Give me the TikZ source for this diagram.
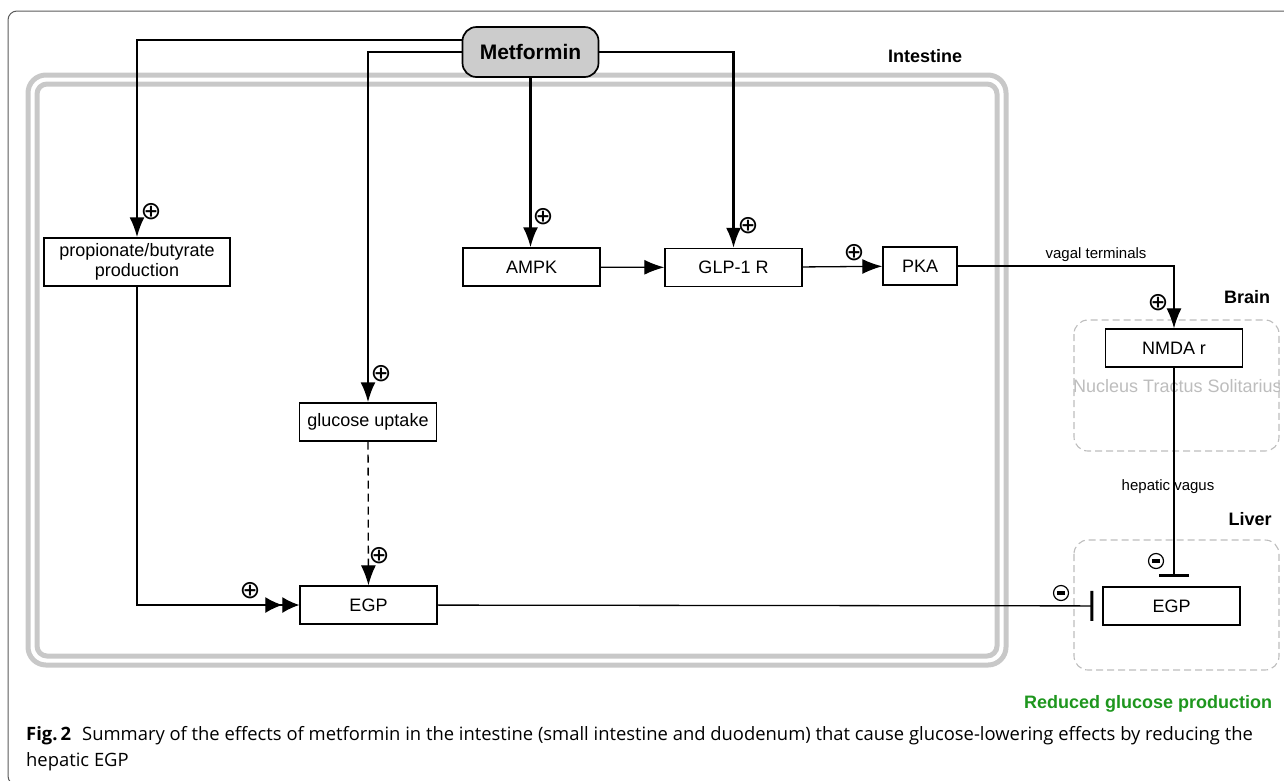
\documentclass[tikz,border=0pt]{standalone}
\usepackage{fontspec}
\setmainfont{Liberation Sans}
\newfontfamily\capfont{Open Sans}
\newfontfamily\symfont{DejaVu Sans}
\usetikzlibrary{arrows.meta,positioning}
\definecolor{metgray}{HTML}{CCCCCC}
\definecolor{wallgray}{HTML}{C8C8C8}
\definecolor{regiongray}{HTML}{BDBDBD}
\definecolor{framegray}{HTML}{5A5A5A}
\definecolor{okgreen}{HTML}{1E961E}

\begin{document}
\begin{tikzpicture}[
    x=1pt, y=-1pt,
    >={Latex[length=20pt,width=15pt]},
    every node/.style={font=\fontsize{18}{20}\selectfont},
    box/.style={
        rectangle,
        draw=black,
        line width=1.4pt,
        align=center,
        minimum width=137pt,
        minimum height=38pt,
        inner sep=2pt
    },
    drug/.style={
        rectangle,
        rounded corners=14pt,
        draw=black,
        line width=1.7pt,
        fill=metgray,
        minimum width=136pt,
        minimum height=50pt,
        font=\fontsize{21}{21}\selectfont\bfseries
    },
    wall/.style={draw=wallgray, line width=5pt, rounded corners=#1},
    region/.style={draw=regiongray, line width=1.1pt, dash pattern=on 7pt off 4pt, rounded corners=14pt},
    organ/.style={font=\fontsize{18}{18}\selectfont\bfseries},
    tag/.style={font=\fontsize{15}{15}\selectfont, inner sep=1pt},
    plussign/.style={font=\symfont\fontsize{25}{25}\selectfont, inner sep=0pt},
    minussign/.style={
        circle, draw, line width=1.2pt, minimum size=15pt, inner sep=0pt,
        path picture={\fill ([xshift=-4pt,yshift=-1.6pt]path picture bounding box.center)
            rectangle ([xshift=4pt,yshift=1.6pt]path picture bounding box.center);}
    },
    drive/.style={->, line width=2.2pt},
    flow/.style={->, line width=1.3pt},
    block/.style={-{Bar[width=30pt,line width=3pt]}, line width=1.3pt, shorten >=9pt}
]
\useasboundingbox (0,0) rectangle (1284,780);

% frame and compartments
\draw[framegray, line width=1pt, rounded corners=9pt] (8,11) rectangle (1320,785);
\draw[wall=18pt] (28,75) rectangle (1006,665);
\draw[wall=10pt] (37,84) rectangle (997,656);
\draw[region] (1074,320) rectangle (1279,451);
\draw[region] (1074,540) rectangle (1279,670);
\begin{scope}
\clip (1070,322) rectangle (1279,449);
\node[anchor=west, text=regiongray, inner sep=0pt] (nts) at (1073,386) {Nucleus Tractus Solitarius};
\end{scope}

\node[drug] (met) at (530.5,52) {Metformin};
\node[box, minimum width=186pt, minimum height=48pt] (prop) at (137,262) {propionate/butyrate\\production};
\node[box] (ampk) at (531.5,267) {AMPK};
\node[box] (glp) at (733.5,267.5) {GLP-1 R};
\node[box, minimum width=74pt] (pka) at (920,266) {PKA};
\node[box] (upt) at (368,422) {glucose uptake};
\node[box] (egp) at (368.5,605) {EGP};
\node[box] (nmda) at (1174,348) {NMDA r};
\node[box] (legp) at (1171.5,606) {EGP};

\node[organ] (intestine) at (925,56) {Intestine};
\node[organ] (brain) at (1247,297) {Brain};
\node[organ] (liver) at (1250,519) {Liver};
\node[organ, text=okgreen] (result) at (1148,704) {Reduced glucose production};
\node[tag] (vagal) at (1096,255) {vagal terminals};
\node[tag] (hepatic) at (1168,487) {hepatic vagus};

\node[plussign] (plusprop) at (151,212) {⊕};
\node[plussign] (plusampk) at (543,217) {⊕};
\node[plussign] (plusglp) at (748,226) {⊕};
\node[plussign] (pluspka) at (854,253) {⊕};
\node[plussign] (plusnmda) at (1158,303) {⊕};
\node[plussign] (plusupt) at (381,374) {⊕};
\node[plussign] (plusegpa) at (379,556) {⊕};
\node[plussign] (plusegpb) at (250,591) {⊕};
\node[minussign] (minusa) at (1156,561) {};
\node[minussign] (minusb) at (1061,593) {};

\draw[drive] ([yshift=12pt]met.west) -| (prop.north);
\draw[drive] (met.west) -| (upt.north);
\draw[drive] (met.east) -| (glp.north);
\draw[drive] (met.south) -- (met.south |- ampk.north);
\draw[flow] (ampk) -- (glp);
\draw[flow] (glp) -- (pka);
\draw[flow] (pka.east) -| (nmda.north);
\draw[flow, dash pattern=on 8pt off 5pt] (upt) -- (egp);
\draw[-{Latex[length=17pt,width=16pt] Latex[length=17pt,width=16pt]}, line width=1.3pt] (prop.south) |- (egp.west);
\draw[block] (egp) -- (legp);
\draw[block] (nmda.south) -- (nmda.south |- legp.north);

\node[anchor=north west, inner sep=0pt, align=left, font=\capfont\fontsize{18.4}{26}\selectfont] (caption) at (26,726)
    {\textbf{Fig.\,2}\hspace{0.6em}Summary of the effects of metformin in the intestine (small intestine and duodenum) that cause glucose-lowering effects by reducing the\\hepatic EGP};
\end{tikzpicture}
\end{document}
